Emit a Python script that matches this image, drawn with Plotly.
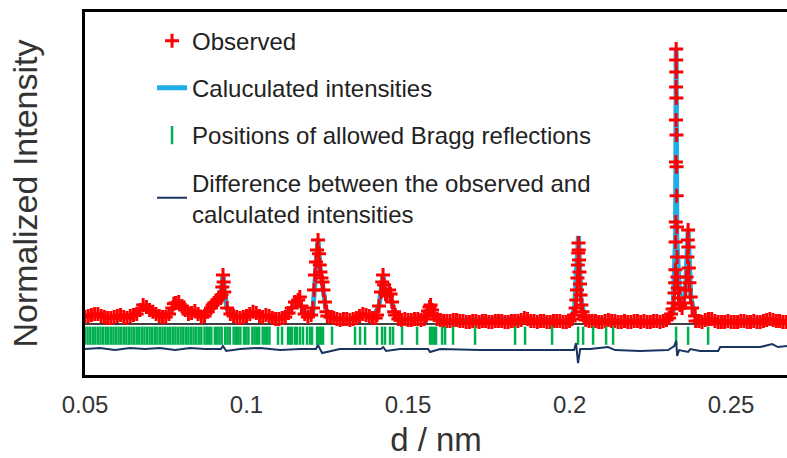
import plotly.graph_objects as go

# ---------------- data (d in nm, normalized intensity) ----------------
obs_base_d = [0.050, 0.052, 0.054, 0.056, 0.058, 0.060, 0.062, 0.064, 0.066, 0.068,
              0.070, 0.072, 0.074, 0.076, 0.078, 0.080, 0.082, 0.084, 0.086, 0.088,
              0.090, 0.092, 0.094, 0.096, 0.098, 0.100, 0.102, 0.104, 0.106, 0.108,
              0.110, 0.112, 0.114, 0.116, 0.118, 0.120, 0.126, 0.128, 0.130, 0.132,
              0.134, 0.136, 0.138, 0.140, 0.146, 0.148, 0.150, 0.152, 0.154, 0.160,
              0.162, 0.164, 0.166, 0.168, 0.170, 0.172, 0.174, 0.176, 0.178, 0.180,
              0.182, 0.184, 0.186, 0.188, 0.190, 0.192, 0.194, 0.196, 0.198, 0.200,
              0.206, 0.208, 0.210, 0.212, 0.214, 0.216, 0.218, 0.220, 0.222, 0.224,
              0.226, 0.228, 0.230, 0.240, 0.242, 0.244, 0.246, 0.248, 0.250, 0.252,
              0.254, 0.256, 0.258, 0.260, 0.262, 0.264, 0.266]
obs_base_y = [0.011, 0.018, 0.022, 0.011, 0.007, 0.015, 0.011, 0.015, 0.022, 0.055,
              0.037, 0.022, 0.011, 0.022, 0.063, 0.052, 0.022, 0.033, 0.011, 0.030,
              0.063, 0.081, 0.044, 0.015, 0.007, 0.015, 0.030, 0.015, 0.018, 0.007,
              0.004, 0.011, 0.044, 0.074, 0.022, 0.018, 0.011, 0.004, 0.004, 0.000,
              0.007, 0.022, 0.015, 0.007, 0.018, 0.000, 0.000, 0.004, 0.000, 0.000,
              -0.004, 0.000, -0.004, -0.007, -0.004, -0.007, -0.004, -0.007, -0.004, -0.007,
              -0.004, -0.004, 0.007, -0.004, -0.007, -0.004, -0.007, -0.004, -0.007, -0.004,
              -0.004, -0.004, -0.007, 0.000, -0.004, -0.007, -0.007, -0.004, -0.007, -0.007,
              -0.004, -0.007, 0.000, -0.004, 0.000, 0.004, -0.007, -0.007, -0.007, -0.007,
              -0.004, -0.007, -0.007, -0.004, 0.004, -0.004, -0.007]

obs_mid_d = [0.051, 0.053, 0.055, 0.057, 0.059, 0.061, 0.063, 0.065, 0.067, 0.071,
             0.073, 0.075, 0.077, 0.081, 0.083, 0.085, 0.087, 0.089, 0.091, 0.095,
             0.097, 0.099, 0.101, 0.103, 0.105, 0.107, 0.109, 0.111, 0.113, 0.117,
             0.119, 0.125, 0.127, 0.129, 0.131, 0.133, 0.135, 0.137, 0.139, 0.147,
             0.149, 0.151, 0.153, 0.155, 0.159, 0.161, 0.163, 0.165, 0.167, 0.169,
             0.171, 0.173, 0.175, 0.177, 0.179, 0.181, 0.183, 0.185, 0.187, 0.189,
             0.191, 0.193, 0.195, 0.197, 0.199, 0.205, 0.207, 0.209, 0.211, 0.213,
             0.215, 0.217, 0.219, 0.221, 0.223, 0.225, 0.227, 0.229, 0.239, 0.241,
             0.243, 0.245, 0.247, 0.249, 0.251, 0.253, 0.255, 0.257, 0.259, 0.261,
             0.263, 0.265, 0.267]
obs_mid_y = [0.015, 0.022, 0.015, 0.007, 0.011, 0.018, 0.007, 0.018, 0.037, 0.030,
             0.015, 0.011, 0.044, 0.037, 0.026, 0.022, 0.015, 0.044, 0.074, 0.022,
             0.011, 0.011, 0.022, 0.026, 0.011, 0.015, 0.004, 0.007, 0.026, 0.052,
             0.011, 0.015, 0.007, 0.000, 0.004, 0.004, 0.015, 0.018, 0.007, 0.004,
             0.004, 0.000, 0.004, 0.004, 0.004, -0.004, -0.004, 0.000, -0.004, -0.007,
             -0.004, -0.004, -0.007, -0.004, -0.004, -0.007, -0.004, 0.000, 0.004, -0.004,
             -0.004, -0.007, -0.004, -0.004, -0.007, 0.000, -0.004, -0.007, -0.004, -0.004,
             -0.007, -0.004, -0.007, -0.004, -0.004, -0.007, -0.004, -0.004, -0.004, -0.007,
             0.004, -0.004, -0.007, -0.004, -0.007, -0.004, -0.007, -0.004, -0.007, 0.000,
             0.000, -0.004, -0.007]

obs_peak_d = [0.0690, 0.0775, 0.0790, 0.0805, 0.0895, 0.0905, 0.1150, 0.1165,
              0.09226, 0.09251, 0.09272, 0.09291, 0.09310,
              0.12059, 0.12090, 0.12121, 0.12152, 0.12183, 0.12214, 0.12245, 0.12267,
              0.12288, 0.12319, 0.12350, 0.12381, 0.12427, 0.12474,
              0.14040, 0.14102, 0.14164, 0.14201, 0.14226, 0.14257, 0.14303, 0.14350,
              0.14412, 0.14458, 0.14505, 0.14567,
              0.15557, 0.15619, 0.15666, 0.15697, 0.15743, 0.15805,
              0.20077, 0.20139, 0.20186, 0.20210, 0.20229, 0.20244, 0.20257, 0.20266,
              0.20275, 0.20284, 0.20294, 0.20306, 0.20322, 0.20340, 0.20365, 0.20402, 0.20464,
              0.23081, 0.23143, 0.23189, 0.23220, 0.23248, 0.23266, 0.23276, 0.23282,
              0.23288, 0.23291, 0.23294, 0.23297, 0.23299, 0.23300, 0.23303, 0.23306,
              0.23309, 0.23312, 0.23315, 0.23322, 0.23328, 0.23337, 0.23349, 0.23374,
              0.23421, 0.23483, 0.23545, 0.23591, 0.23622, 0.23647, 0.23659, 0.23669,
              0.23678, 0.23690, 0.23709, 0.23746, 0.23793, 0.23886]
obs_peak_y = [0.048, 0.060, 0.066, 0.044, 0.055, 0.066, 0.066, 0.085,
              0.092, 0.122, 0.166, 0.140, 0.103,
              0.044, 0.111, 0.166, 0.214, 0.258, 0.295, 0.244, 0.203,
              0.177, 0.155, 0.140, 0.111, 0.066, 0.030,
              0.018, 0.052, 0.103, 0.140, 0.166, 0.129, 0.096, 0.089,
              0.111, 0.096, 0.066, 0.030,
              0.015, 0.033, 0.048, 0.055, 0.037, 0.018,
              0.004, 0.018, 0.044, 0.074, 0.111, 0.155, 0.203, 0.247,
              0.284, 0.258, 0.221, 0.177, 0.133, 0.092, 0.055, 0.030, 0.011,
              0.007, 0.022, 0.041, 0.063, 0.100, 0.137, 0.185, 0.288,
              0.362, 0.583, 0.738, 0.860, 0.959, 1.000, 0.915, 0.819,
              0.683, 0.565, 0.458, 0.343, 0.232, 0.159, 0.118, 0.081,
              0.055, 0.044, 0.063, 0.111, 0.159, 0.232, 0.295, 0.332,
              0.269, 0.192, 0.137, 0.085, 0.044, 0.015]

calc_d = [0.050, 0.054, 0.058, 0.064, 0.068, 0.071, 0.075, 0.078, 0.081, 0.084,
          0.086, 0.090, 0.0922, 0.0927, 0.0932, 0.094, 0.097, 0.102, 0.105, 0.110,
          0.114, 0.116, 0.118, 0.1205, 0.1215, 0.12214, 0.1227, 0.1232, 0.1238, 0.1247,
          0.127, 0.132, 0.136, 0.139, 0.1410, 0.14226, 0.1430, 0.1441, 0.1457, 0.148,
          0.1555, 0.1569, 0.1580, 0.162, 0.186, 0.200, 0.2015, 0.20275, 0.2035, 0.2046,
          0.212, 0.230, 0.2320, 0.2328, 0.23300, 0.2332, 0.2342, 0.2348, 0.2359, 0.23669,
          0.2375, 0.2388, 0.240, 0.244, 0.246, 0.262, 0.2673]
calc_y = [0.011, 0.018, 0.008, 0.012, 0.050, 0.025, 0.012, 0.058, 0.040, 0.030,
          0.012, 0.060, 0.110, 0.168, 0.100, 0.040, 0.010, 0.026, 0.014, 0.005,
          0.044, 0.076, 0.022, 0.030, 0.190, 0.300, 0.200, 0.152, 0.110, 0.030,
          0.005, 0.002, 0.022, 0.008, 0.050, 0.168, 0.095, 0.110, 0.030, 0.000,
          0.012, 0.056, 0.018, -0.004, 0.005, -0.005, 0.040, 0.310, 0.080, 0.010,
          -0.002, -0.005, 0.030, 0.300, 1.000, 0.300, 0.060, 0.045, 0.110, 0.335,
          0.085, 0.015, -0.005, 0.002, -0.006, 0.002, -0.006]

bragg_d = [0.0500, 0.0508, 0.0516, 0.0524, 0.0532, 0.0540, 0.0548, 0.0556, 0.0564, 0.0572,
           0.0580, 0.0588, 0.0596, 0.0604, 0.0612, 0.0620, 0.0628, 0.0636, 0.0644, 0.0652,
           0.0660, 0.0668, 0.0676, 0.0684, 0.0692, 0.0700, 0.0708, 0.0716, 0.0724, 0.0732,
           0.0740, 0.0748, 0.0756, 0.0764, 0.0772, 0.0780, 0.0788, 0.0796, 0.0804, 0.0812,
           0.0820, 0.0828, 0.0836, 0.0844, 0.0852, 0.0860,
           0.0870, 0.0877, 0.0884, 0.0891, 0.0902, 0.0909, 0.0916, 0.0923, 0.0934, 0.0941,
           0.0948, 0.0960, 0.0967, 0.0974, 0.0981, 0.0992, 0.0999, 0.1006, 0.1018, 0.1025,
           0.1032, 0.1039, 0.1050, 0.1057, 0.1064, 0.1071,
           0.10975, 0.11099, 0.11285, 0.11347, 0.11409, 0.11502, 0.11563, 0.11656, 0.11749,
           0.11873, 0.11966, 0.12028, 0.12183, 0.12245, 0.12307, 0.12368, 0.12647, 0.13359,
           0.13514, 0.13669, 0.14040, 0.14195, 0.14288, 0.14443, 0.14536, 0.14814, 0.15279,
           0.15681, 0.15743, 0.15805, 0.15867, 0.16053, 0.16146, 0.16393, 0.17074, 0.18313,
           0.18622, 0.19458, 0.20263, 0.20418, 0.20728, 0.21130, 0.21347, 0.23297, 0.23669,
           0.24288]
BRAGG_ROW = -0.058

diff_d = [0.0500, 0.0546, 0.0593, 0.0639, 0.0686, 0.0732, 0.0779, 0.0825, 0.0872, 0.0921,
          0.0927, 0.0937, 0.0980, 0.1042, 0.1104, 0.1166, 0.1215, 0.1221, 0.1234, 0.1289,
          0.1416, 0.1423, 0.1432, 0.1475, 0.1562, 0.1568, 0.1599, 0.1723, 0.1847, 0.1971,
          0.2014, 0.2020, 0.2026, 0.2033, 0.2064, 0.2119, 0.2141, 0.2218, 0.2305, 0.2324,
          0.2330, 0.2333, 0.2339, 0.2367, 0.2374, 0.2404, 0.2460, 0.2466, 0.2590, 0.2627,
          0.2645, 0.2673]
diff_y = [-0.107, -0.103, -0.111, -0.103, -0.107, -0.103, -0.111, -0.103, -0.107, -0.107,
          -0.096, -0.114, -0.107, -0.103, -0.111, -0.107, -0.107, -0.092, -0.122, -0.107,
          -0.107, -0.100, -0.114, -0.107, -0.107, -0.118, -0.107, -0.111, -0.111, -0.111,
          -0.111, -0.085, -0.159, -0.107, -0.107, -0.100, -0.111, -0.114, -0.111, -0.096,
          -0.077, -0.133, -0.111, -0.118, -0.107, -0.114, -0.114, -0.100, -0.100, -0.089,
          -0.100, -0.096]

bg_d = [0.050, 0.2673]
bg_y = [-0.015, -0.015]

x_ticks = [0.05, 0.10, 0.15, 0.20, 0.25]
x_ticktext = ["0.05", "0.1", "0.15", "0.2", "0.25"]

# ---------------- figure ----------------
pairs = sorted(zip(obs_base_d + obs_mid_d + obs_peak_d, obs_base_y + obs_mid_y + obs_peak_y))
obs_d = [p[0] for p in pairs]
obs_y = [p[1] for p in pairs]

RED = "#FF0000"
BLUE = "#1EAEE6"
GREEN = "#00B050"
NAVY = "#1A3462"
FONT = "Liberation Sans, Arial, sans-serif"

fig = go.Figure()
fig.add_trace(go.Scatter(x=bg_d, y=bg_y, mode="lines", line=dict(color="black", width=1.5),
                         showlegend=False, hoverinfo="skip"))
fig.add_trace(go.Scatter(x=calc_d, y=calc_y, mode="lines", name="Caluculated intensities",
                         line=dict(color=BLUE, width=5), legendgroup="b", legendrank=2))
fig.add_trace(go.Scatter(x=obs_d, y=obs_y, mode="markers", name="Observed",
                         marker=dict(symbol="cross-thin", size=10, color=RED,
                                     line=dict(width=3, color=RED)),
                         legendgroup="a", legendrank=1))
fig.add_trace(go.Scatter(x=bragg_d, y=[BRAGG_ROW] * len(bragg_d), mode="markers",
                         name="Positions of allowed Bragg reflections",
                         marker=dict(symbol="line-ns", size=13, color=GREEN,
                                     line=dict(width=2.5, color=GREEN)),
                         legendgroup="c", legendrank=3))
fig.add_trace(go.Scatter(x=diff_d, y=diff_y, mode="lines",
                         name="Difference between the observed and<br>calculated intensities",
                         line=dict(color=NAVY, width=2), legendgroup="d", legendrank=4))

fig.update_layout(
    width=787, height=458,
    margin=dict(l=85, r=0, t=12, b=83),
    paper_bgcolor="white", plot_bgcolor="white",
    font=dict(family=FONT, color="#333333"),
    legend=dict(x=0.0955, y=0.982, xanchor="left", yanchor="top",
                bgcolor="rgba(0,0,0,0)", font=dict(size=24, color="#222222"),
                traceorder="grouped", tracegroupgap=13),
    xaxis=dict(range=[0.05, 0.2673], tickvals=x_ticks, ticktext=x_ticktext,
               showgrid=False, zeroline=False, showline=True, mirror=True,
               linecolor="black", linewidth=3, ticks="outside", ticklen=6,
               tickcolor="rgba(0,0,0,0)", tickfont=dict(size=24, color="#333333"),
               title=dict(text="d / nm", font=dict(size=33, color="#333333"), standoff=15)),
    yaxis=dict(range=[-0.203, 1.1365], showticklabels=False, ticks="",
               showgrid=False, zeroline=False, showline=True, linecolor="black",
               linewidth=3,
               title=dict(text="Normalized Intensity", font=dict(size=34, color="#333333"),
                          standoff=35)),
)

fig.write_html("out.html", config={"displayModeBar": False},
               post_script="document.body.style.margin='0';document.body.style.overflow='hidden';")
